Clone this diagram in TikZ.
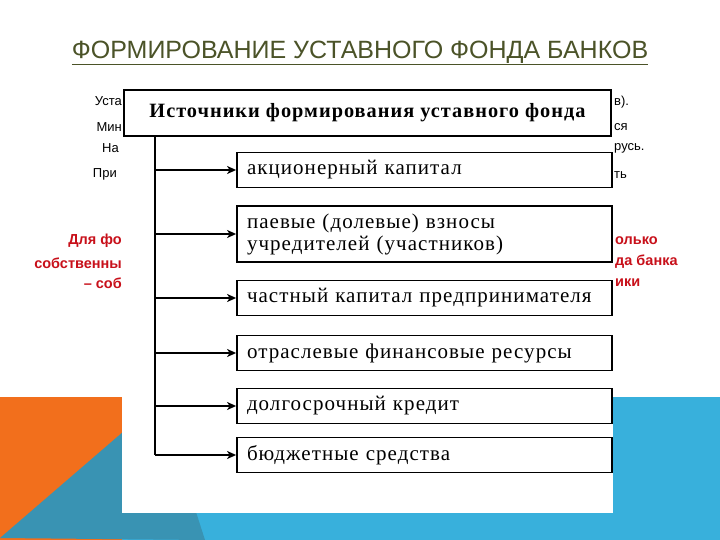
\documentclass[tikz,border=0pt]{standalone}
\usepackage{fontspec}
\setmainfont{Liberation Serif}
\newfontfamily\slidefont{Liberation Sans}
\newfontfamily\scanfont[LetterSpace=5]{Liberation Serif}
\usetikzlibrary{positioning,arrows.meta}
\definecolor{titleolive}{HTML}{4B5328}
\definecolor{slideorange}{HTML}{F26F1C}
\definecolor{slideteal}{HTML}{3993B3}
\definecolor{slideblue}{HTML}{38B0DC}
\definecolor{redtxt}{HTML}{C8101A}

\begin{document}
\begin{tikzpicture}[x=1pt,y=-1pt,
    bgtxt/.style={font=\slidefont\fontsize{13}{15}\selectfont,inner sep=0pt},
    redfrag/.style={font=\slidefont\bfseries\fontsize{14.5}{16}\selectfont,text=redtxt,inner sep=0pt},
    headbox/.style={draw,line width=1.8pt,minimum width=487pt,minimum height=46pt,
      font=\scanfont\bfseries\fontsize{20.3}{23}\selectfont},
    srcbox/.style={draw,line width=1.8pt,minimum width=375pt,minimum height=35pt,
      text width=355pt,align=left,inner xsep=10pt,font=\scanfont\fontsize{21}{22}\selectfont},
    srcarrow/.style={line width=1.5pt,-{Stealth[length=9pt,width=8pt,inset=2.5pt]}}]
  \useasboundingbox (0,0) rectangle (720,540);
  \fill[white] (0,0) rectangle (720,540);
  % slide background
  \fill[slideblue] (122,397) rectangle (720,540);
  \fill[slideorange] (0,397) rectangle (122,540);
  \fill[slideteal] (0,538) -- (160,400) -- (205,540) -- cycle;
  \node[font=\slidefont\fontsize{25}{28}\selectfont,text=titleolive] (title) at (360,53)
    {\underline{ФОРМИРОВАНИЕ УСТАВНОГО ФОНДА БАНКОВ}};
  % text of the slide behind the picture
  \node[bgtxt,anchor=east] (l1) at (122,101) {Уста};
  \node[bgtxt,anchor=east] (l2) at (122,127) {Мин};
  \node[bgtxt,anchor=east] (l3) at (119,148) {На};
  \node[bgtxt,anchor=east] (l4) at (117,174) {При};
  \node[bgtxt,anchor=west] (r1) at (614,102) {в).};
  \node[bgtxt,anchor=west] (r2) at (614,127) {ся};
  \node[bgtxt,anchor=west] (r3) at (614,148) {русь.};
  \node[bgtxt,anchor=west] (r4) at (614,175) {ть};
  \node[redfrag,anchor=east] (rl1) at (122,241) {Для фо};
  \node[redfrag,anchor=east] (rl2) at (122,263) {собственны};
  \node[redfrag,anchor=east] (rl3) at (122,283) {– соб};
  \node[redfrag,anchor=west] (rr1) at (615,241) {олько};
  \node[redfrag,anchor=west] (rr2) at (615,262) {да банка};
  \node[redfrag,anchor=west] (rr3) at (615,283) {ики};
  % the picture
  \fill[white] (122,85) rectangle (613,513);
  \node[headbox] (head) at (367.5,113) {Источники формирования уставного фонда};
  \node[srcbox] (ak) at (424.5,170) {акционерный капитал};
  \node[srcbox,minimum height=56pt] (pv) at (424.5,234) {паевые (долевые) взносы\\учредителей (участников)};
  \node[srcbox] (ch) at (424.5,298) {частный капитал предпринимателя};
  \node[srcbox] (ot) at (424.5,353) {отраслевые финансовые ресурсы};
  \node[srcbox] (dk) at (424.5,406) {долгосрочный кредит};
  \node[srcbox] (bs) at (424.5,455) {бюджетные средства};
  \coordinate (trunk) at (155,136);
  \draw[line width=1.5pt] (trunk) -- (trunk |- bs.west);
  \foreach \b in {ak,pv,ch,ot,dk,bs}
    \draw[srcarrow] (trunk |- \b.west) -- (\b.west);
\end{tikzpicture}
\end{document}
